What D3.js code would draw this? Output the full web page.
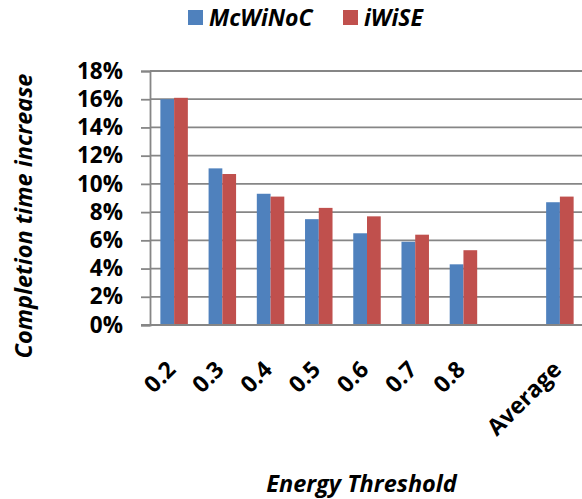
<!DOCTYPE html>
<html>
<head>
<meta charset="utf-8">
<script src="https://cdn.jsdelivr.net/npm/d3@7"></script>
<style>
  html, body { margin: 0; padding: 0; background: #fff; }
  svg { display: block; }
  text { font-family: "Open Sans", "DejaVu Sans", sans-serif; fill: #000; }
</style>
</head>
<body>
<svg id="chart" width="582" height="499"></svg>
<script>
// Energy threshold groups (the blank slot separates the thresholds from the average)
const categories = ["0.2", "0.3", "0.4", "0.5", "0.6", "0.7", "0.8", "", "Average"];
const seriesNames = ["McWiNoC", "iWiSE"];
const seriesColors = ["#4F81BD", "#C0504D"];
// Completion time increase, as fractions
const mcwinocValues = [0.160, 0.111, 0.093, 0.075, 0.065, 0.059, 0.043, null, 0.087];
const iwiseValues   = [0.161, 0.107, 0.091, 0.083, 0.077, 0.064, 0.053, null, 0.091];
const yTicks = [0, 0.02, 0.04, 0.06, 0.08, 0.10, 0.12, 0.14, 0.16, 0.18];

const svg = d3.select("#chart");
const plot = { left: 150, right: 584, top: 71, bottom: 325 };

const x0 = d3.scaleBand()
  .domain(categories.map((c, i) => i))
  .range([plot.left, plot.right])
  .paddingInner(0.43)
  .paddingOuter(0.215);
const x1 = d3.scaleBand()
  .domain(seriesNames)
  .range([0, x0.bandwidth()]);
const y = d3.scaleLinear()
  .domain([0, 0.18])
  .range([plot.bottom, plot.top]);

// Horizontal gridlines
svg.append("g")
  .selectAll("line")
  .data(yTicks.filter(t => t > 0))
  .join("line")
  .attr("x1", plot.left)
  .attr("x2", plot.right)
  .attr("y1", d => y(d))
  .attr("y2", d => y(d))
  .attr("stroke", "#868686")
  .attr("stroke-width", 1.8);

// Y axis with outward ticks
const yAxis = svg.append("g")
  .attr("transform", `translate(${plot.left},0)`)
  .call(d3.axisLeft(y).tickValues(yTicks).tickFormat(d3.format(".0%")).tickSize(9).tickPadding(18));
yAxis.select(".domain").attr("stroke", "#868686").attr("stroke-width", 1.8);
yAxis.selectAll(".tick line").attr("stroke", "#868686").attr("stroke-width", 1.8);
yAxis.selectAll(".tick text")
  .attr("font-size", 22.5)
  .attr("font-weight", "bold")
  .attr("font-family", "'Open Sans', sans-serif")
  .attr("fill", "#000");

// Bars
const rows = categories.map((c, i) => ({
  i,
  values: [mcwinocValues[i], iwiseValues[i]]
}));
svg.append("g")
  .selectAll("g")
  .data(rows)
  .join("g")
  .attr("transform", d => `translate(${x0(d.i)},0)`)
  .selectAll("rect")
  .data(d => d.values.map((v, k) => ({ v, k })).filter(e => e.v != null))
  .join("rect")
  .attr("x", d => x1(seriesNames[d.k]))
  .attr("width", x1.bandwidth())
  .attr("y", d => y(d.v))
  .attr("height", d => y(0) - y(d.v))
  .attr("fill", d => seriesColors[d.k]);

// X baseline
svg.append("line")
  .attr("x1", plot.left - 9)
  .attr("x2", plot.right)
  .attr("y1", y(0))
  .attr("y2", y(0))
  .attr("stroke", "#868686")
  .attr("stroke-width", 1.8);

// Rotated category labels
svg.append("g")
  .selectAll("text")
  .data(categories.map((c, i) => ({ c, i })).filter(d => d.c !== ""))
  .join("text")
  .attr("transform", d => `translate(${x0(d.i) + x0.bandwidth() / 2 + 3},${plot.bottom + 46}) rotate(-45)`)
  .attr("text-anchor", "end")
  .attr("font-size", 23)
  .attr("font-weight", "bold")
  .text(d => d.c);

// Legend
const legend = svg.append("g");
const legendX = [188, 343];
seriesNames.forEach((name, k) => {
  legend.append("rect")
    .attr("x", legendX[k])
    .attr("y", 10)
    .attr("width", 15)
    .attr("height", 15)
    .attr("fill", seriesColors[k]);
  legend.append("text")
    .attr("x", legendX[k] + 21)
    .attr("y", 25.5)
    .attr("font-size", 23)
    .attr("font-weight", "bold")
    .attr("font-style", "italic")
    .text(name);
});

// Axis titles
svg.append("text")
  .attr("transform", "translate(32,216) rotate(-90)")
  .attr("text-anchor", "middle")
  .attr("font-size", 23.5)
  .attr("font-weight", "bold")
  .attr("font-style", "italic")
  .text("Completion time increase");

svg.append("text")
  .attr("x", 361.5)
  .attr("y", 491.5)
  .attr("text-anchor", "middle")
  .attr("font-size", 23.5)
  .attr("font-weight", "bold")
  .attr("font-style", "italic")
  .text("Energy Threshold");
</script>
</body>
</html>
